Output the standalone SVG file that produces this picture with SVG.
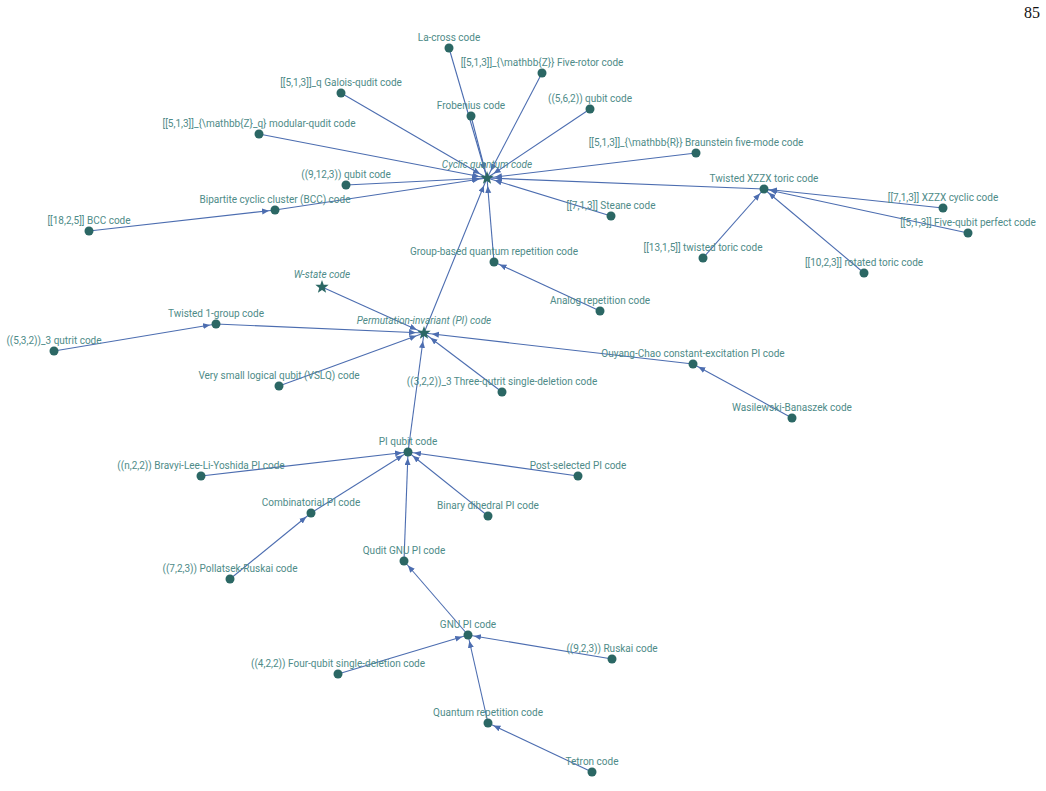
<svg xmlns="http://www.w3.org/2000/svg" xmlns:xlink="http://www.w3.org/1999/xlink" width="1046" height="791" viewBox="0 0 1046 791">
<style>
.e line{stroke:#4c6db0;stroke-width:1.1;fill:none}
.e .d{marker-end:url(#ad)}
.e .s{marker-end:url(#as)}
.n circle{fill:#2b6764}
.n use{fill:#2b6764}
.n text{font-family:Roboto,"Liberation Sans",sans-serif;font-size:10px;fill:#4e8b88;text-anchor:middle}
.n text.i{font-style:italic}
.pg{font-family:"Liberation Serif",serif;font-size:16px;fill:#111}
</style>
<defs>
<marker id="ad" markerUnits="userSpaceOnUse" markerWidth="20" markerHeight="8" refX="13" refY="3" orient="auto"><path d="M0,0 L7,3 L0,6 z" fill="#4c6db0"/></marker>
<marker id="as" markerUnits="userSpaceOnUse" markerWidth="20" markerHeight="8" refX="15" refY="3" orient="auto"><path d="M0,0 L7,3 L0,6 z" fill="#4c6db0"/></marker>
<path id="star" d="M0,-7 L1.70,-2.35 L6.66,-2.16 L2.76,0.90 L4.11,5.66 L0,2.9 L-4.11,5.66 L-2.76,0.90 L-6.66,-2.16 L-1.70,-2.35 Z"/>
</defs>
<rect width="1046" height="791" fill="#fff"/>
<text class="pg" x="1024" y="18">85</text>
<g id="connectors" class="e">
<line class="s" x1="449" y1="48" x2="487" y2="178"/>
<line class="s" x1="542" y1="73" x2="487" y2="178"/>
<line class="s" x1="341" y1="93" x2="487" y2="178"/>
<line class="s" x1="471" y1="116" x2="487" y2="178"/>
<line class="s" x1="590" y1="109" x2="487" y2="178"/>
<line class="s" x1="259" y1="134" x2="487" y2="178"/>
<line class="s" x1="696" y1="153" x2="487" y2="178"/>
<line class="s" x1="346" y1="185" x2="487" y2="178"/>
<line class="s" x1="275" y1="210" x2="487" y2="178"/>
<line class="d" x1="89" y1="231" x2="275" y2="210"/>
<line class="s" x1="611" y1="216" x2="487" y2="178"/>
<line class="s" x1="764" y1="189" x2="487" y2="178"/>
<line class="d" x1="943" y1="208" x2="764" y2="189"/>
<line class="d" x1="968" y1="233" x2="764" y2="189"/>
<line class="d" x1="703" y1="258" x2="764" y2="189"/>
<line class="d" x1="864" y1="273" x2="764" y2="189"/>
<line class="s" x1="494" y1="262" x2="487" y2="178"/>
<line class="d" x1="600" y1="311" x2="494" y2="262"/>
<line class="s" x1="424" y1="333" x2="487" y2="178"/>
<line class="s" x1="322" y1="287" x2="424" y2="333"/>
<line class="s" x1="216" y1="324" x2="424" y2="333"/>
<line class="d" x1="54" y1="351" x2="216" y2="324"/>
<line class="s" x1="279" y1="386" x2="424" y2="333"/>
<line class="s" x1="502" y1="392" x2="424" y2="333"/>
<line class="s" x1="693" y1="364" x2="424" y2="333"/>
<line class="d" x1="792" y1="418" x2="693" y2="364"/>
<line class="s" x1="408" y1="452" x2="424" y2="333"/>
<line class="d" x1="201" y1="476" x2="408" y2="452"/>
<line class="d" x1="578" y1="476" x2="408" y2="452"/>
<line class="d" x1="311" y1="513" x2="408" y2="452"/>
<line class="d" x1="488" y1="516" x2="408" y2="452"/>
<line class="d" x1="404" y1="561" x2="408" y2="452"/>
<line class="d" x1="230" y1="579" x2="311" y2="513"/>
<line class="d" x1="468" y1="635" x2="404" y2="561"/>
<line class="d" x1="338" y1="674" x2="468" y2="635"/>
<line class="d" x1="612" y1="659" x2="468" y2="635"/>
<line class="d" x1="488" y1="723" x2="468" y2="635"/>
<line class="d" x1="592" y1="772" x2="488" y2="723"/>
</g>
<g class="n">
<g id="n-cyclic"><use xlink:href="#star" href="#star" x="487" y="178"/><text class="i" x="487" y="168">Cyclic quantum code</text></g>
<g id="n-lacross"><circle cx="449" cy="48" r="4.5"/><text x="449" y="41">La-cross code</text></g>
<g id="n-fiverotor"><circle cx="542" cy="73" r="4.5"/><text x="542" y="66">[[5,1,3]]_{\mathbb{Z}} Five-rotor code</text></g>
<g id="n-galois"><circle cx="341" cy="93" r="4.5"/><text x="341" y="86">[[5,1,3]]_q Galois-qudit code</text></g>
<g id="n-frobenius"><circle cx="471" cy="116" r="4.5"/><text x="471" y="109">Frobenius code</text></g>
<g id="n-562"><circle cx="590" cy="109" r="4.5"/><text x="590" y="102">((5,6,2)) qubit code</text></g>
<g id="n-modular"><circle cx="259" cy="134" r="4.5"/><text x="259" y="127">[[5,1,3]]_{\mathbb{Z}_q} modular-qudit code</text></g>
<g id="n-braunstein"><circle cx="696" cy="153" r="4.5"/><text x="696" y="146">[[5,1,3]]_{\mathbb{R}} Braunstein five-mode code</text></g>
<g id="n-9123"><circle cx="346" cy="185" r="4.5"/><text x="346" y="178">((9,12,3)) qubit code</text></g>
<g id="n-bcc"><circle cx="275" cy="210" r="4.5"/><text x="275" y="203">Bipartite cyclic cluster (BCC) code</text></g>
<g id="n-1825"><circle cx="89" cy="231" r="4.5"/><text x="89" y="224">[[18,2,5]] BCC code</text></g>
<g id="n-steane"><circle cx="611" cy="216" r="4.5"/><text x="611" y="209">[[7,1,3]] Steane code</text></g>
<g id="n-txzzx"><circle cx="764" cy="189" r="4.5"/><text x="764" y="182">Twisted XZZX toric code</text></g>
<g id="n-xzzxcyc"><circle cx="943" cy="208" r="4.5"/><text x="943" y="201">[[7,1,3]] XZZX cyclic code</text></g>
<g id="n-fivequbit"><circle cx="968" cy="233" r="4.5"/><text x="968" y="226">[[5,1,3]] Five-qubit perfect code</text></g>
<g id="n-twistedtoric"><circle cx="703" cy="258" r="4.5"/><text x="703" y="251">[[13,1,5]] twisted toric code</text></g>
<g id="n-rotated"><circle cx="864" cy="273" r="4.5"/><text x="864" y="266">[[10,2,3]] rotated toric code</text></g>
<g id="n-groupbased"><circle cx="494" cy="262" r="4.5"/><text x="494" y="255">Group-based quantum repetition code</text></g>
<g id="n-analog"><circle cx="600" cy="311" r="4.5"/><text x="600" y="304">Analog repetition code</text></g>
<g id="n-wstate"><use xlink:href="#star" href="#star" x="322" y="287"/><text class="i" x="322" y="278">W-state code</text></g>
<g id="n-pi"><use xlink:href="#star" href="#star" x="424" y="333"/><text class="i" x="424" y="324">Permutation-invariant (PI) code</text></g>
<g id="n-t1g"><circle cx="216" cy="324" r="4.5"/><text x="216" y="317">Twisted 1-group code</text></g>
<g id="n-532"><circle cx="54" cy="351" r="4.5"/><text x="54" y="344">((5,3,2))_3 qutrit code</text></g>
<g id="n-vslq"><circle cx="279" cy="386" r="4.5"/><text x="279" y="379">Very small logical qubit (VSLQ) code</text></g>
<g id="n-322"><circle cx="502" cy="392" r="4.5"/><text x="502" y="385">((3,2,2))_3 Three-qutrit single-deletion code</text></g>
<g id="n-ouyang"><circle cx="693" cy="364" r="4.5"/><text x="693" y="357">Ouyang-Chao constant-excitation PI code</text></g>
<g id="n-wasilewski"><circle cx="792" cy="418" r="4.5"/><text x="792" y="411">Wasilewski-Banaszek code</text></g>
<g id="n-piqubit"><circle cx="408" cy="452" r="4.5"/><text x="408" y="445">PI qubit code</text></g>
<g id="n-bravyi"><circle cx="201" cy="476" r="4.5"/><text x="201" y="469">((n,2,2)) Bravyi-Lee-Li-Yoshida PI code</text></g>
<g id="n-postselected"><circle cx="578" cy="476" r="4.5"/><text x="578" y="469">Post-selected PI code</text></g>
<g id="n-combinatorial"><circle cx="311" cy="513" r="4.5"/><text x="311" y="506">Combinatorial PI code</text></g>
<g id="n-binary"><circle cx="488" cy="516" r="4.5"/><text x="488" y="509">Binary dihedral PI code</text></g>
<g id="n-quditgnu"><circle cx="404" cy="561" r="4.5"/><text x="404" y="554">Qudit GNU PI code</text></g>
<g id="n-pollatsek"><circle cx="230" cy="579" r="4.5"/><text x="230" y="572">((7,2,3)) Pollatsek-Ruskai code</text></g>
<g id="n-gnu"><circle cx="468" cy="635" r="4.5"/><text x="468" y="628">GNU PI code</text></g>
<g id="n-fourqubit"><circle cx="338" cy="674" r="4.5"/><text x="338" y="667">((4,2,2)) Four-qubit single-deletion code</text></g>
<g id="n-ruskai"><circle cx="612" cy="659" r="4.5"/><text x="612" y="652">((9,2,3)) Ruskai code</text></g>
<g id="n-qrep"><circle cx="488" cy="723" r="4.5"/><text x="488" y="716">Quantum repetition code</text></g>
<g id="n-tetron"><circle cx="592" cy="772" r="4.5"/><text x="592" y="765">Tetron code</text></g>
</g>
</svg>
